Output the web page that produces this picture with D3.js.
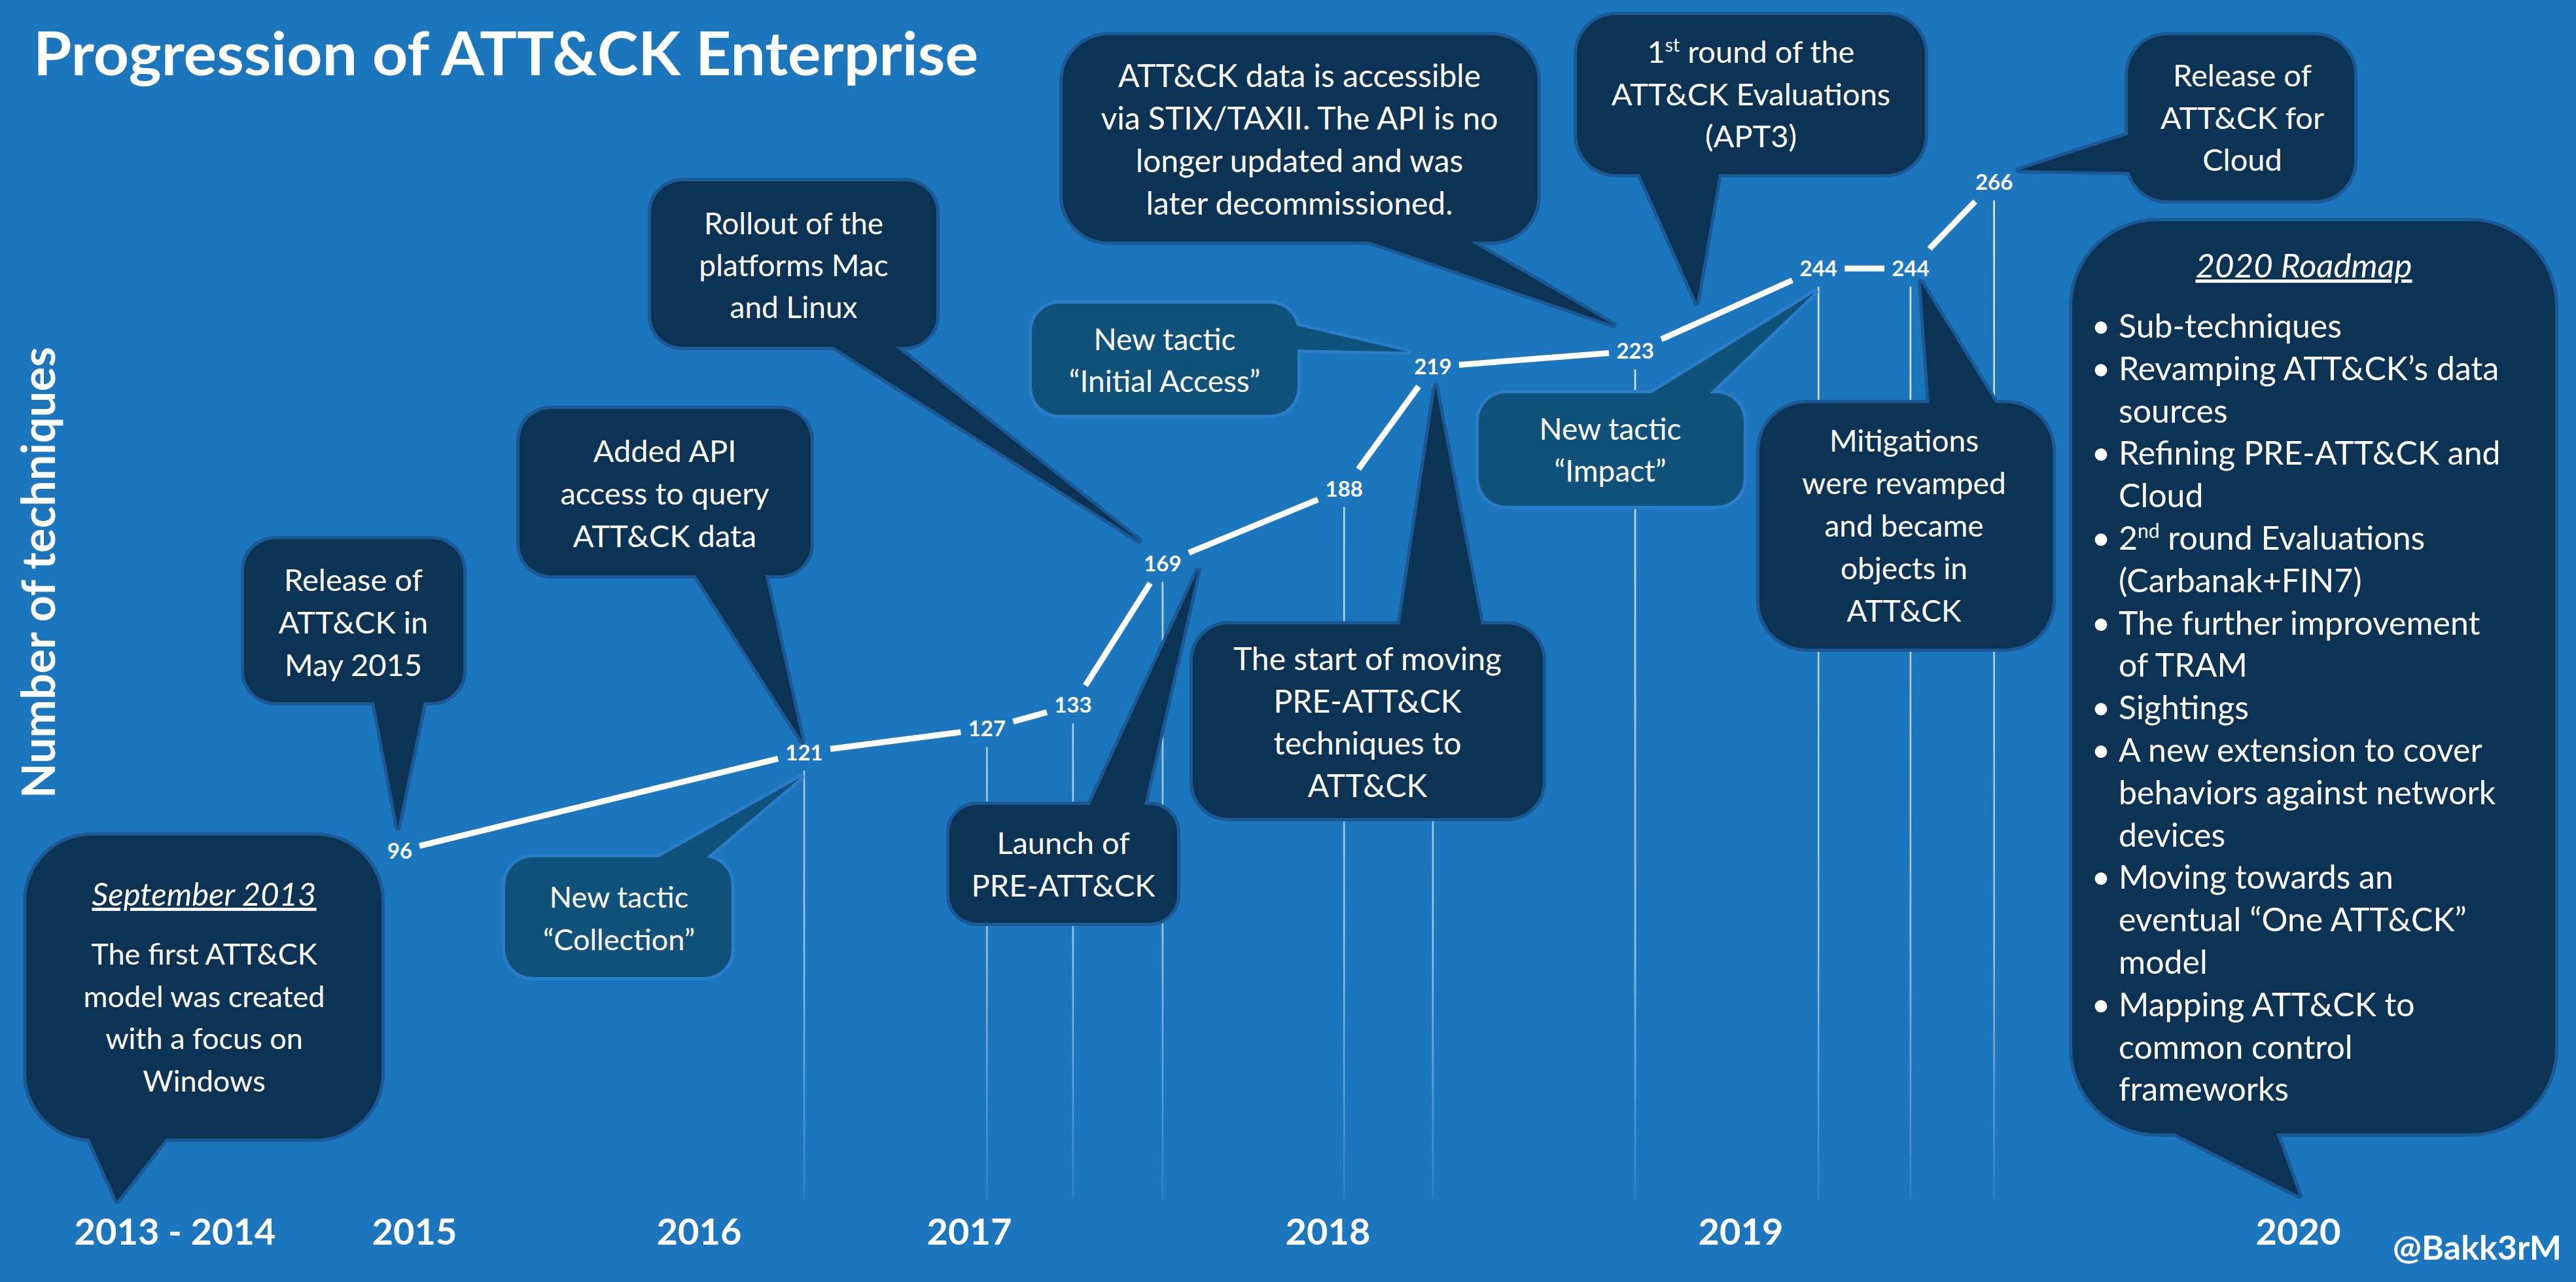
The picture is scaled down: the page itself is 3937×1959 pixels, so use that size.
<!DOCTYPE html>
<html><head><meta charset="utf-8">
<script src="https://cdn.jsdelivr.net/npm/d3@7"></script>
<style>
html,body{margin:0;padding:0;background:#1c76be;}
svg{display:block;font-family:Lato,"Open Sans",sans-serif;}
</style>
</head><body>
<svg id="chart" width="3937" height="1959"></svg>
<script>
// ---------------- DATA ----------------
const chartTitle = "Progression of ATT&CK Enterprise";
const yAxisTitle = "Number of techniques";
const creditText = "@Bakk3rM";
// position of each release on the timeline (decimal year as placed in the picture)
const releaseDates = [2014.94, 2016.39, 2017.05, 2017.29, 2017.54, 2018.04, 2018.255, 2018.745, 2019.14, 2019.305, 2019.455];
const techniqueCounts = [96, 121, 127, 133, 169, 188, 219, 223, 244, 244, 266];
const yearTicks = [2014, 2015, 2016, 2017, 2018, 2019, 2020];
const yearTickLabels = ["2013 - 2014", "2015", "2016", "2017", "2018", "2019", "2020"];

const calloutTexts = {
  sep: ["The first ATT&CK", "model was created", "with a focus on", "Windows"],
  rel2015: ["Release of", "ATT&CK in", "May 2015"],
  collection: ["New tactic", "\u201CCollection\u201D"],
  api: ["Added API", "access to query", "ATT&CK data"],
  rollout: ["Rollout of the", "platforms Mac", "and Linux"],
  launch: ["Launch of", "PRE-ATT&CK"],
  stix: ["ATT&CK data is accessible", "via STIX/TAXII. The API is no", "longer updated and was", "later decommissioned."],
  initial: ["New tactic", "\u201CInitial Access\u201D"],
  premove: ["The start of moving", "PRE-ATT&CK", "techniques to", "ATT&CK"],
  evals: ["1^{st} round of the", "ATT&CK Evaluations", "(APT3)"],
  cloud: ["Release of", "ATT&CK for", "Cloud"],
  impact: ["New tactic", "\u201CImpact\u201D"],
  mitig: ["Mitigations", "were revamped", "and became", "objects in", "ATT&CK"]
};
const calloutHeaders = { sep: "September 2013", roadmap: "2020 Roadmap" };
const roadmapItems = [
  ["Sub-techniques"],
  ["Revamping ATT&CK\u2019s data", "sources"],
  ["Refining PRE-ATT&CK and", "Cloud"],
  ["2^{nd} round Evaluations", "(Carbanak+FIN7)"],
  ["The further improvement", "of TRAM"],
  ["Sightings"],
  ["A new extension to cover", "behaviors against network", "devices"],
  ["Moving towards an", "eventual \u201COne ATT&CK\u201D", "model"],
  ["Mapping ATT&CK to", "common control", "frameworks"]
];

// ---------------- LAYOUT ----------------
const W = 3937, H = 1959;
const COLORS = {
  bg: "#1c76be", dark: "#0d3354", darkStroke: "#1b5994",
  teal: "#11527a", tealStroke: "#2a7dc8", white: "#ffffff"
};
// callout geometry: box [x,y,w,h], corner radius, tail base points, tail tip (anchored to a release point or absolute)
const calloutLayout = [
  { id: "sep", kind: "dark", box: [40, 1277, 543, 463], r: 100, base: [[129, 1740], [266, 1740]], tipAbs: [179, 1835], cx: 312, y0: 1474, dy: 64.5, fs: 45, header: { y: 1384, fs: 49 } },
  { id: "rel2015", kind: "dark", box: [373, 824, 335, 249], r: 48, base: [[569, 1073], [651, 1073]], anchor: 0, off: [-3, -36], cx: 540, y0: 903, dy: 65, fs: 47 },
  { id: "collection", kind: "teal", box: [772, 1310, 346, 183], r: 42, base: [[978, 1310], [1061, 1310]], anchor: 1, off: [-5, 38], cx: 946, y0: 1387, dy: 65, fs: 45 },
  { id: "api", kind: "dark", box: [794, 625, 445, 254], r: 48, base: [[1053, 879], [1166, 879]], anchor: 1, off: [-3, -17], cx: 1016, y0: 706, dy: 65, fs: 47 },
  { id: "rollout", kind: "dark", box: [995, 277, 436, 253], r: 48, base: [[1249, 530], [1349, 530]], anchor: 4, off: [-36, -35], cx: 1213, y0: 358, dy: 64, fs: 46 },
  { id: "launch", kind: "dark", box: [1451, 1230, 348, 180], r: 42, base: [[1658, 1230], [1745, 1230]], anchor: 4, off: [54, 11], cx: 1625, y0: 1305, dy: 65, fs: 47 },
  { id: "stix", kind: "dark", box: [1624, 54, 726, 315], r: 70, base: [[2046, 369], [2220, 369]], anchor: 7, off: [-33, -40], cx: 1986, y0: 133, dy: 65, fs: 48 },
  { id: "initial", kind: "teal", box: [1577, 464, 406, 170], r: 42, base: [[1983, 494], [1983, 534]], anchor: 6, off: [-38, -23], cx: 1780, y0: 535, dy: 64, fs: 46 },
  { id: "premove", kind: "dark", box: [1823, 954, 535, 296], r: 55, base: [[2137, 954], [2267, 954]], anchor: 6, off: [4, 30], cx: 2090, y0: 1024, dy: 64.5, fs: 48 },
  { id: "evals", kind: "dark", box: [2410, 23, 532, 243], r: 60, base: [[2499, 266], [2630, 266]], anchor: 7, off: [94, -74], cx: 2676, y0: 96, dy: 64.5, fs: 47 },
  { id: "cloud", kind: "dark", box: [3252, 54, 346, 252], r: 60, base: [[3252, 201], [3252, 263]], anchor: 10, off: [38, -18], cx: 3427, y0: 132, dy: 64.5, fs: 47 },
  { id: "impact", kind: "teal", box: [2260, 601, 405, 172], r: 42, base: [[2498, 601], [2596, 601]], anchor: 8, off: [-5, 36], cx: 2461, y0: 672, dy: 64, fs: 46 },
  { id: "mitig", kind: "dark", box: [2689, 616, 448, 375], r: 72, base: [[2950, 616], [3060, 616]], anchor: 9, off: [16, 21], cx: 2910, y0: 690, dy: 65, fs: 46 },
  { id: "roadmap", kind: "dark", box: [3167, 338, 738, 1394], r: 130, base: [[3292, 1732], [3473, 1732]], tipAbs: [3514, 1827] }
];

// ---------------- SCALES ----------------
const x = d3.scaleLinear().domain(yearTicks).range([267, 633, 1068, 1481, 2029, 2660, 3512]);
const y = d3.scaleLinear().domain([0, 300]).range([1877, 73.6]);

const points = releaseDates.map((d, i) => ({ date: d, value: techniqueCounts[i], i }));

const svg = d3.select("#chart");
svg.append("rect").attr("width", W).attr("height", H).attr("fill", COLORS.bg);

// gradient for drop lines
const defs = svg.append("defs");
const grad = defs.append("linearGradient").attr("id", "dropGrad")
  .attr("gradientUnits", "userSpaceOnUse").attr("x1", 0).attr("x2", 0).attr("y1", 250).attr("y2", 1835);
grad.append("stop").attr("offset", 0).attr("stop-color", "#ffffff").attr("stop-opacity", 0.9);
grad.append("stop").attr("offset", 0.75).attr("stop-color", "#ffffff").attr("stop-opacity", 0.55);
grad.append("stop").attr("offset", 1).attr("stop-color", "#ffffff").attr("stop-opacity", 0.08);

// title
svg.append("text").attr("x", 51).attr("y", 115)
  .attr("fill", COLORS.white).attr("font-weight", 700).attr("font-size", 91)
  .attr("textLength", 1444).attr("lengthAdjust", "spacingAndGlyphs")
  .text(chartTitle);

// y axis title
svg.append("text").attr("transform", "translate(84,875) rotate(-90)")
  .attr("text-anchor", "middle").attr("fill", COLORS.white)
  .attr("font-weight", 700).attr("font-size", 70)
  .attr("textLength", 690).attr("lengthAdjust", "spacingAndGlyphs")
  .text(yAxisTitle);

// year axis
const xAxis = d3.axisBottom(x).tickValues(yearTicks)
  .tickFormat((d, i) => yearTickLabels[i]).tickSize(0).tickPadding(0);
const gx = svg.append("g").attr("transform", "translate(0,1902)").call(xAxis);
gx.select(".domain").remove();
gx.selectAll("text").attr("y", 0).attr("dy", 0)
  .attr("fill", COLORS.white).attr("font-family", "Lato, 'Open Sans', sans-serif")
  .attr("font-weight", 700).attr("font-size", 56);

// credit
svg.append("text").attr("x", 3915).attr("y", 1925).attr("text-anchor", "end")
  .attr("fill", COLORS.white).attr("font-weight", 700).attr("font-size", 52).text(creditText);

// drop lines (skip the first release)
svg.append("g").selectAll("line").data(points.slice(1)).join("line")
  .attr("x1", d => x(d.date)).attr("x2", d => x(d.date))
  .attr("y1", d => y(d.value) + 28).attr("y2", 1832)
  .attr("stroke", "url(#dropGrad)").attr("stroke-width", 2.6);

// ---------------- CALLOUTS ----------------
function richText(sel, str, fs) {
  const parts = str.split(/(\^\{[^}]*\})/).filter(s => s.length);
  let raised = false;
  parts.forEach(p => {
    const m = p.match(/^\^\{([^}]*)\}$/);
    if (m) {
      sel.append("tspan").attr("font-size", fs * 0.6).attr("dy", -fs * 0.36).text(m[1]);
      raised = true;
    } else {
      const t = sel.append("tspan").text(p);
      if (raised) { t.attr("dy", fs * 0.36); raised = false; }
    }
  });
}

const gCall = svg.append("g");
calloutLayout.forEach(L => {
  const g = gCall.append("g").attr("class", "callout-" + L.id);
  const [bx, by, bw, bh] = L.box;
  const fill = L.kind === "teal" ? COLORS.teal : COLORS.dark;
  const stroke = L.kind === "teal" ? COLORS.tealStroke : COLORS.darkStroke;
  const tip = L.tipAbs ? L.tipAbs :
    [x(points[L.anchor].date) + L.off[0], y(points[L.anchor].value) + L.off[1]];
  const inward = p => {
    const q = [p[0], p[1]];
    if (Math.abs(p[1] - (by + bh)) < 1) q[1] -= 16;
    else if (Math.abs(p[1] - by) < 1) q[1] += 16;
    else if (Math.abs(p[0] - bx) < 1) q[0] += 16;
    else if (Math.abs(p[0] - (bx + bw)) < 1) q[0] -= 16;
    return q;
  };
  const b0 = inward(L.base[0]), b1 = inward(L.base[1]);
  const tailPath = d3.line()([b0, tip, b1]) + "Z";
  // stroke layer (outline of the union)
  g.append("rect").attr("x", bx).attr("y", by).attr("width", bw).attr("height", bh)
    .attr("rx", L.r).attr("ry", L.r).attr("fill", fill).attr("stroke", stroke).attr("stroke-width", 10);
  g.append("path").attr("d", tailPath).attr("fill", fill).attr("stroke", stroke)
    .attr("stroke-width", 10).attr("stroke-linejoin", "round");
  // fill layer
  g.append("rect").attr("x", bx).attr("y", by).attr("width", bw).attr("height", bh)
    .attr("rx", L.r).attr("ry", L.r).attr("fill", fill);
  g.append("path").attr("d", tailPath).attr("fill", fill);

  if (L.header && calloutHeaders[L.id]) {
    g.append("text").attr("x", L.cx).attr("y", L.header.y).attr("text-anchor", "middle")
      .attr("fill", COLORS.white).attr("font-style", "italic").attr("font-size", L.header.fs)
      .style("text-decoration", "underline").text(calloutHeaders[L.id]);
  }
  const lines = calloutTexts[L.id];
  if (lines) {
    lines.forEach((ln, k) => {
      const t = g.append("text").attr("x", L.cx).attr("y", L.y0 + k * L.dy)
        .attr("text-anchor", "middle").attr("fill", COLORS.white).attr("font-size", L.fs);
      richText(t, ln, L.fs);
    });
  }
});

// roadmap content
const rm = gCall.select(".callout-roadmap");
rm.append("text").attr("x", 3521).attr("y", 424).attr("text-anchor", "middle")
  .attr("fill", COLORS.white).attr("font-style", "italic").attr("font-size", 51)
  .style("text-decoration", "underline").text(calloutHeaders.roadmap);
let lineNo = 0;
const rmY0 = 516, rmDy = 64.8, rmFs = 50;
roadmapItems.forEach(item => {
  item.forEach((ln, k) => {
    const yy = rmY0 + lineNo * rmDy;
    if (k === 0) {
      rm.append("text").attr("x", 3211).attr("y", yy).attr("text-anchor", "middle")
        .attr("fill", COLORS.white).attr("font-size", rmFs).text("\u2022");
    }
    const t = rm.append("text").attr("x", 3238).attr("y", yy)
      .attr("fill", COLORS.white).attr("font-size", rmFs);
    richText(t, ln, rmFs);
    lineNo++;
  });
});

// ---------------- DATA LINE + LABELS ----------------
const halfW = v => (String(v).length >= 3 ? 40 : 30), halfH = 30;
const segs = d3.pairs(points).map(([a, b]) => {
  const p = [x(a.date), y(a.value)], q = [x(b.date), y(b.value)];
  const dx = q[0] - p[0], dy = q[1] - p[1], L = Math.hypot(dx, dy);
  const ux = dx / L, uy = dy / L;
  const tp = Math.min(halfW(a.value) / Math.max(Math.abs(ux), 1e-6), halfH / Math.max(Math.abs(uy), 1e-6));
  const tq = Math.min(halfW(b.value) / Math.max(Math.abs(ux), 1e-6), halfH / Math.max(Math.abs(uy), 1e-6));
  return [[p[0] + ux * tp, p[1] + uy * tp], [q[0] - ux * tq, q[1] - uy * tq]];
});
svg.append("g").selectAll("path").data(segs).join("path")
  .attr("d", d => d3.line()(d)).attr("stroke", COLORS.white).attr("stroke-width", 9)
  .attr("fill", "none");

svg.append("g").selectAll("text").data(points).join("text")
  .attr("x", d => x(d.date)).attr("y", d => y(d.value)).attr("dy", "0.36em")
  .attr("text-anchor", "middle").attr("fill", COLORS.white)
  .attr("font-weight", 700).attr("font-size", 33)
  .text(d => d.value);
</script>
</body></html>
